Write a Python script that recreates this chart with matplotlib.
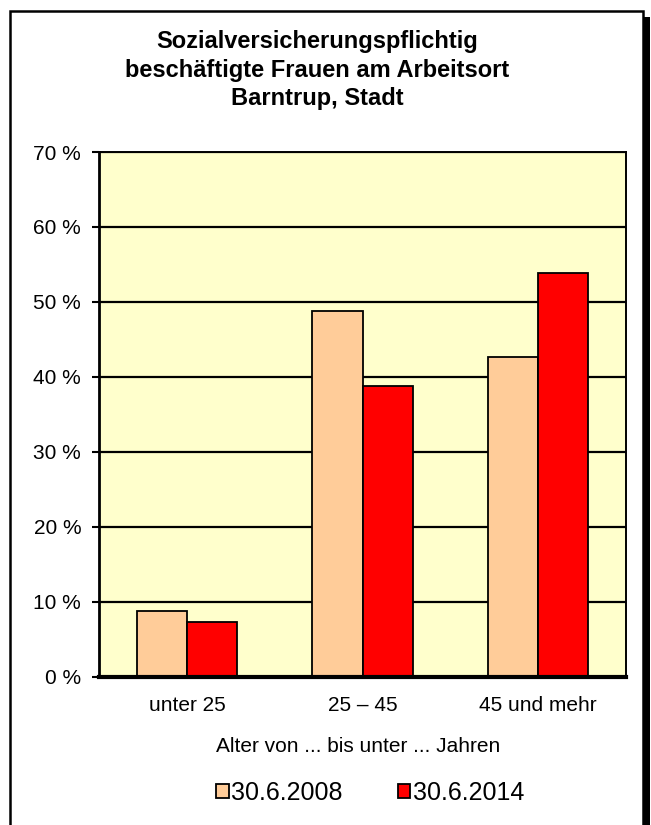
import numpy as np
import matplotlib
matplotlib.use('Agg')
import matplotlib.pyplot as plt
from matplotlib.patches import Rectangle

plt.rcParams['font.family'] = ['Liberation Sans', 'DejaVu Sans']

# data
categories = ['unter 25', '25 – 45', '45 und mehr']
series_labels = ['30.6.2008', '30.6.2014']
values_2008 = [8.7, 48.8, 42.7]
values_2014 = [7.3, 38.8, 53.8]
yticks = [0, 10, 20, 30, 40, 50, 60, 70]

fig = plt.figure(figsize=(6.51, 8.25), dpi=100)
W, H = 651, 825

# outer frame with shadow on the right
fig.patches.append(Rectangle((643 / W, 0), 7 / W, (825 - 17) / H,
                             transform=fig.transFigure, facecolor='black',
                             edgecolor='none', zorder=0))
fig.patches.append(Rectangle((10 / W, -0.01), 633 / W, (825 - 11) / H + 0.01,
                             transform=fig.transFigure, facecolor='white',
                             edgecolor='black', linewidth=1.8, zorder=1))

ax = fig.add_axes([99.3 / W, (825 - 676.7) / H, 526.4 / W, (676.7 - 152) / H])
ax.set_zorder(3)
ax.set_facecolor('#FFFFCC')

x = np.arange(len(categories))
w = 0.285
ax.bar(x - w / 2, values_2008, w, color='#FFCC99', edgecolor='black',
       linewidth=1.3, label=series_labels[0], zorder=3)
ax.bar(x + w / 2, values_2014, w, color='#FF0000', edgecolor='black',
       linewidth=1.3, label=series_labels[1], zorder=3)

ax.set_xlim(-0.5, 2.5)
ax.set_ylim(0, 70)
ax.set_yticks(yticks)
ax.set_yticklabels([f'{t} %' for t in yticks])
ax.set_xticks(x)
ax.set_xticklabels(categories)
ax.tick_params(axis='y', length=5, width=1.5, pad=8, labelsize=15, direction='out')
ax.tick_params(axis='x', length=0, pad=14, labelsize=15)
ax.yaxis.grid(True, color='black', linewidth=1.6, zorder=1)
ax.set_axisbelow(True)
for side in ['top', 'right']:
    ax.spines[side].set_linewidth(1.4)
ax.spines['left'].set_linewidth(2.0)
ax.spines['bottom'].set_linewidth(3.0)
ax.spines['bottom'].set_zorder(4)

fig.text(317.5 / W, (825 - 70) / H,
         'Sozialversicherungspflichtig\nbeschäftigte Frauen am Arbeitsort\nBarntrup, Stadt',
         ha='center', va='center', fontsize=17, fontweight='bold', linespacing=1.33,
         zorder=5)

fig.text(358.5 / W, (825 - 746) / H, 'Alter von ... bis unter ... Jahren',
         ha='center', va='center', fontsize=15, zorder=5)

leg = ax.legend(loc='center', bbox_to_anchor=(370 / W, (825 - 793) / H),
                bbox_transform=fig.transFigure, ncol=2, frameon=False,
                fontsize=18, handlelength=0.5, handleheight=0.5,
                handletextpad=0.1, columnspacing=2.2)

fig.savefig('out.png', dpi=100)
